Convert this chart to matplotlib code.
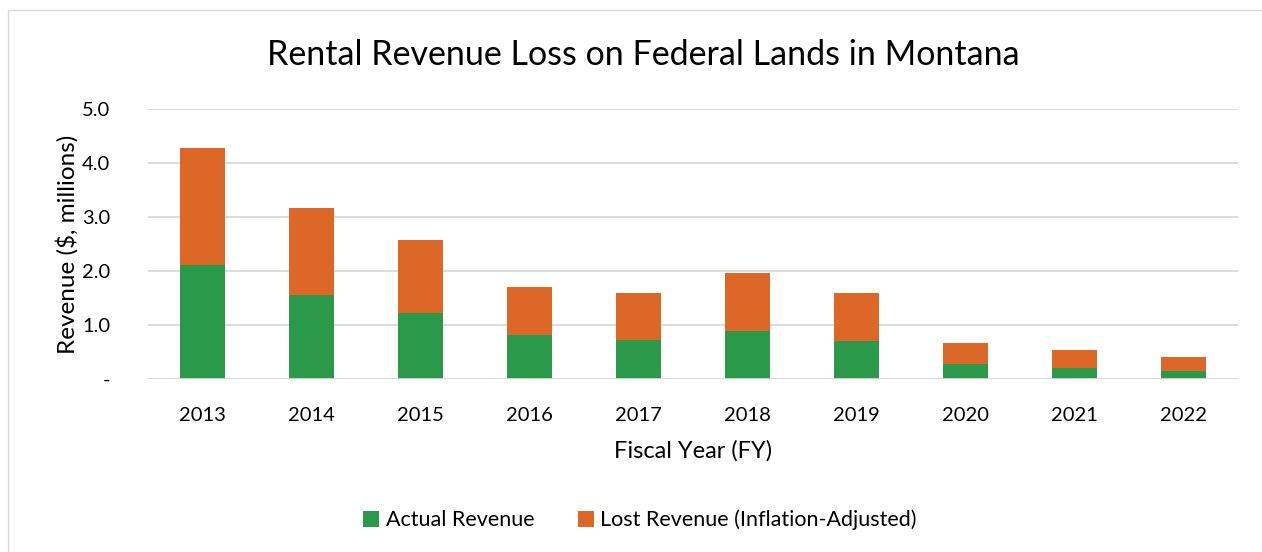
import matplotlib.pyplot as plt
from matplotlib.patches import Rectangle

plt.rcParams['font.family'] = ['Lato', 'DejaVu Sans']

# Data ($ millions)
years = ["2013", "2014", "2015", "2016", "2017", "2018", "2019", "2020", "2021", "2022"]
actual = [2.12, 1.55, 1.23, 0.81, 0.73, 0.88, 0.70, 0.27, 0.21, 0.14]
lost = [2.15, 1.61, 1.34, 0.89, 0.86, 1.08, 0.90, 0.39, 0.32, 0.27]
y_ticks = [0, 1, 2, 3, 4, 5]
y_tick_labels = ["-", "1.0", "2.0", "3.0", "4.0", "5.0"]

green = "#2a9a4a"
orange = "#dd6726"

fig = plt.figure(figsize=(12.62, 5.52), dpi=100)
ax = fig.add_axes([148 / 1262, 1 - 379 / 552, 1090 / 1262, 270 / 552])

x = range(len(years))
ax.bar(x, actual, width=0.42, color=green, label="Actual Revenue", zorder=3)
ax.bar(x, lost, width=0.42, bottom=actual, color=orange,
       label="Lost Revenue (Inflation-Adjusted)", zorder=3)

ax.set_xlim(-0.5, len(years) - 0.5)
ax.set_ylim(0, 5)
ax.set_yticks(y_ticks)
ax.set_yticklabels(y_tick_labels, fontsize=14.5)
ax.set_xticks(list(x))
ax.set_xticklabels(years, fontsize=14.5)
ax.tick_params(axis='y', length=0, pad=27)
ax.tick_params(axis='x', length=0, pad=20)
ax.yaxis.grid(True, color="#d9d9d9", linewidth=1.3, zorder=0)
for s in ax.spines.values():
    s.set_visible(False)
ax.axhline(0, color="#d9d9d9", linewidth=1.3, zorder=4)

ax.set_xlabel("Fiscal Year (FY)", fontsize=17, labelpad=12)
ax.set_ylabel("Revenue ($, millions)", fontsize=17.5, labelpad=3)
fig.text(643 / 1262, 1 - 55 / 552, "Rental Revenue Loss on Federal Lands in Montana",
         ha="center", va="center", fontsize=24.5)

fig.legend(loc="center", bbox_to_anchor=(640 / 1262, 1 - 520 / 552), ncol=2,
           frameon=False, fontsize=15.5, handlelength=0.75, handleheight=0.75,
           columnspacing=2.0, handletextpad=0.3)

# chart border
fig.patches.append(Rectangle((8 / 1262, -0.01), 1.1, 1 - 10 / 552 + 0.01,
                             transform=fig.transFigure, fill=False,
                             edgecolor="#d9d9d9", linewidth=1))

fig.savefig("out.png", dpi=100)
